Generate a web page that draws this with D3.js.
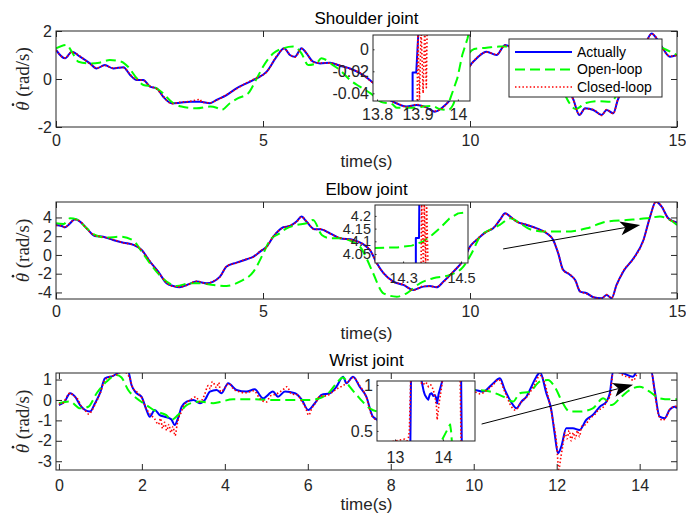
<!DOCTYPE html>
<html>
<head>
<meta charset="utf-8">
<script src="https://cdn.jsdelivr.net/npm/d3@7"></script>
<style>
body { margin: 0; background: #fff; }
</style>
</head>
<body>
<div id="chart"></div>
<script>
// ---- data: [time (s), joint velocity (rad/s)] ----
var shoulderActual = [[0,1.21],[0.22,0.86],[0.38,1.14],[0.58,0.93],[0.82,0.65],[0.98,0.44],[1.18,0.58],[1.38,0.44],[1.63,0.49],[1.79,0.17],[1.95,-0.04],[2.11,-0.04],[2.27,-0.32],[2.43,-0.39],[2.59,-0.74],[2.79,-1.01],[2.99,-0.99],[3.24,-0.95],[3.48,-0.95],[3.72,-1.01],[3.88,-0.87],[4.12,-0.67],[4.36,-0.39],[4.6,-0.18],[4.85,0.03],[5.09,0.31],[5.33,0.93],[5.51,1.28],[5.65,1.0],[5.77,0.93],[5.93,1.28],[6.05,1.07],[6.21,0.72],[6.38,0.65],[6.62,0.68],[6.86,0.55],[7.1,0.44],[7.34,0.24],[7.58,-0.04],[7.8,-0.4],[8.05,-0.85],[8.31,-1.08],[8.47,-1.15],[8.71,-1.08],[8.91,-1.15],[9.15,-1.36],[9.36,-1.15],[9.52,-0.87],[9.68,-0.46],[9.85,0.1],[10.04,0.65],[10.16,0.86],[10.4,1.14],[10.64,1.0],[10.85,1.42],[11.1,1.2],[11.4,1.0],[11.8,0.6],[12.2,0.0],[12.4,-0.5],[12.5,-0.87],[12.64,-1.5],[12.78,-1.22],[12.98,-1.29],[13.18,-1.5],[13.3,-1.29],[13.46,-1.43],[13.57,-0.87],[13.8,-0.1],[14.0,0.6],[14.2,1.3],[14.39,1.9],[14.5,1.7],[14.63,1.35],[14.83,0.93],[15,1.0]];
var shoulderOpen = [[0,1.28],[0.26,1.42],[0.38,1.14],[0.54,0.72],[0.82,0.65],[1.05,0.68],[1.3,0.79],[1.58,0.72],[1.74,0.51],[1.95,0.03],[2.11,-0.25],[2.35,-0.32],[2.59,-0.6],[2.79,-0.95],[3.03,-1.15],[3.39,-1.22],[3.72,-1.15],[3.88,-1.2],[4.0,-1.29],[4.2,-1.01],[4.4,-0.8],[4.64,-0.6],[4.85,0.03],[5.0,0.51],[5.25,1.07],[5.49,1.28],[5.73,1.35],[5.93,1.07],[6.09,0.58],[6.29,0.65],[6.41,0.86],[6.53,0.79],[6.69,0.58],[6.86,0.37],[7.1,-0.04],[7.34,-0.32],[7.6,-0.6],[7.85,-0.95],[8.12,-1.05],[8.24,-1.2],[8.6,-1.2],[9.08,-1.12],[9.27,-1.25],[9.47,-1.29],[9.59,-1.08],[9.69,-0.53],[9.81,0.46],[9.95,1.0],[10.1,1.25],[10.4,1.3],[10.7,1.35],[10.9,1.35],[11.3,1.2],[11.8,0.7],[12.2,-0.3],[12.4,-1.0],[12.55,-1.25],[12.8,-1.0],[13.1,-0.92],[13.4,-0.95],[13.6,-0.5],[13.9,0.4],[14.2,1.1],[14.5,1.4],[14.7,1.25],[15,1.0]];
var shoulderClosed = [[0,1.2],[0.22,0.88],[0.38,1.12],[0.58,0.95],[0.82,0.63],[0.98,0.46],[1.18,0.56],[1.38,0.46],[1.63,0.47],[1.74,0.3],[1.79,0.19],[1.95,-0.02],[2.11,-0.06],[2.27,-0.3],[2.43,-0.41],[2.59,-0.72],[2.79,-1.03],[2.99,-0.97],[3.24,-0.93],[3.48,-0.85],[3.52,-0.97],[3.72,-0.99],[3.88,-0.89],[4.12,-0.65],[4.36,-0.41],[4.6,-0.16],[4.85,0.05],[5.09,0.29],[5.33,0.95],[5.51,1.26],[5.65,1.02],[5.77,0.91],[5.93,1.26],[6.05,1.09],[6.21,0.7],[6.38,0.67],[6.62,0.66],[6.86,0.57],[7.1,0.42],[7.34,0.26],[7.58,-0.06],[7.8,-0.38],[8.05,-0.87],[8.31,-1.06],[8.47,-1.17],[8.71,-1.06],[8.91,-1.17],[9.15,-1.34],[9.36,-1.17],[9.52,-0.85],[9.68,-0.48],[9.85,0.12],[10.04,0.63],[10.16,0.88],[10.4,1.12],[10.64,1.02],[10.85,1.4],[11.1,1.22],[11.4,0.98],[11.8,0.62],[12.2,-0.02],[12.4,-0.48],[12.5,-0.89],[12.64,-1.48],[12.78,-1.24],[12.98,-1.27],[13.18,-1.52],[13.3,-1.27],[13.46,-1.45],[13.57,-0.85],[13.8,-0.12],[14.0,0.62],[14.2,1.28],[14.39,1.88],[14.5,1.72],[14.63,1.33],[14.83,0.95],[15,0.98]];

var elbowActual = [[0,3.2],[0.14,3.09],[0.22,2.95],[0.3,3.2],[0.46,3.8],[0.58,3.56],[0.74,2.84],[0.94,2.03],[1.14,1.95],[1.38,1.6],[1.63,1.31],[1.87,1.07],[2.07,0.53],[2.27,-0.71],[2.47,-1.78],[2.67,-3.02],[2.83,-3.31],[2.99,-3.45],[3.16,-3.2],[3.4,-2.84],[3.64,-3.02],[3.8,-2.84],[3.96,-2.31],[4.12,-1.24],[4.36,-0.82],[4.61,-0.46],[4.77,-0.18],[4.93,0.36],[5.09,0.89],[5.25,1.95],[5.49,2.95],[5.65,3.09],[5.81,3.56],[5.93,4.09],[6.05,3.56],[6.25,2.74],[6.38,2.74],[6.62,2.31],[6.86,1.78],[7.18,1.6],[7.58,0.53],[7.75,-0.89],[7.91,-1.95],[8.15,-2.84],[8.39,-3.2],[8.63,-3.73],[8.87,-3.38],[9.03,-3.31],[9.19,-3.45],[9.36,-2.84],[9.6,-1.78],[9.84,-0.53],[10.0,0.89],[10.16,1.6],[10.4,2.49],[10.56,2.84],[10.72,3.73],[10.85,4.45],[10.97,4.09],[11.13,3.56],[11.37,3.2],[11.61,2.84],[11.85,2.31],[12.01,1.6],[12.13,0.18],[12.25,-1.6],[12.42,-2.13],[12.54,-2.67],[12.66,-3.91],[12.82,-4.09],[12.98,-4.52],[13.18,-4.62],[13.3,-4.27],[13.42,-4.62],[13.54,-3.2],[13.7,-1.78],[13.95,-0.36],[14.19,1.6],[14.35,4.09],[14.49,5.69],[14.63,5.15],[14.79,3.91],[15,3.45]];
var elbowOpen = [[0,3.38],[0.18,3.3],[0.34,3.91],[0.5,3.8],[0.74,2.84],[0.94,2.13],[1.22,1.85],[1.55,1.95],[1.87,1.53],[2.07,0.36],[2.27,-0.89],[2.47,-2.0],[2.67,-2.84],[2.91,-3.31],[3.24,-3.02],[3.48,-3.02],[3.8,-3.2],[4.12,-3.31],[4.44,-2.84],[4.77,-1.78],[5.01,0.18],[5.17,1.6],[5.41,2.31],[5.57,2.84],[5.81,3.2],[6.05,3.38],[6.21,3.73],[6.42,2.13],[6.62,1.78],[6.86,1.78],[7.34,0.89],[7.5,-0.36],[7.66,-1.95],[7.91,-4.09],[8.23,-4.45],[8.47,-4.09],[8.79,-3.02],[9.11,-2.49],[9.52,-2.13],[9.84,-1.24],[10.04,0.18],[10.24,1.95],[10.48,2.67],[10.72,3.2],[10.97,3.91],[11.21,3.38],[11.45,2.74],[11.85,2.49],[12.33,2.49],[12.82,2.84],[13.3,3.56],[13.78,3.73],[14.27,3.91],[14.59,4.09],[14.83,3.73],[15,3.2]];
var elbowClosed = [[0,3.15],[0.14,3.12],[0.22,2.92],[0.3,3.25],[0.46,3.76],[0.58,3.6],[0.74,2.8],[0.94,2.07],[1.14,1.92],[1.38,1.64],[1.63,1.28],[1.87,1.1],[2.07,0.5],[2.27,-0.67],[2.47,-1.82],[2.67,-2.98],[2.83,-3.35],[2.99,-3.41],[3.16,-3.24],[3.4,-2.8],[3.64,-3.06],[3.8,-2.8],[3.96,-2.35],[4.12,-1.2],[4.36,-0.86],[4.61,-0.42],[4.77,-0.22],[4.93,0.4],[5.09,0.85],[5.25,1.99],[5.49,2.91],[5.65,3.13],[5.81,3.52],[5.93,4.05],[6.05,3.6],[6.25,2.7],[6.38,2.78],[6.62,2.27],[6.86,1.82],[7.18,1.56],[7.58,0.57],[7.75,-0.93],[7.91,-1.91],[8.15,-2.88],[8.39,-3.16],[8.63,-3.77],[8.87,-3.34],[9.03,-3.35],[9.19,-3.41],[9.36,-2.88],[9.6,-1.74],[9.84,-0.57],[10.0,0.85],[10.16,1.64],[10.4,2.45],[10.56,2.88],[10.72,3.69],[10.85,4.41],[10.97,4.13],[11.13,3.52],[11.37,3.24],[11.61,2.8],[11.85,2.35],[12.01,1.56],[12.13,0.22],[12.25,-1.64],[12.42,-2.09],[12.54,-2.71],[12.66,-3.87],[12.82,-4.13],[12.98,-4.48],[13.18,-4.66],[13.3,-4.23],[13.42,-4.58],[13.54,-3.24],[13.7,-1.74],[13.95,-0.4],[14.19,1.56],[14.35,4.05],[14.49,5.65],[14.63,5.19],[14.79,3.87],[15,3.49]];

var wristActual = [[0,-0.25],[0.14,-0.08],[0.27,0.33],[0.39,0.16],[0.51,-0.25],[0.63,-0.49],[0.75,-0.57],[0.87,-0.16],[0.99,0.33],[1.11,1.06],[1.31,1.18],[1.51,1.4],[1.67,1.4],[1.75,0.73],[1.87,0.33],[1.99,0.16],[2.11,-0.49],[2.19,-0.82],[2.31,-0.49],[2.43,-0.74],[2.55,-0.82],[2.71,-0.95],[2.79,-1.23],[2.87,-0.9],[2.96,-0.33],[3.08,-0.08],[3.24,0],[3.4,-0.16],[3.52,0],[3.64,0.41],[3.8,0.49],[3.92,0.33],[4.08,0.82],[4.28,0.49],[4.52,0.41],[4.72,0.52],[4.92,0.08],[5.16,0.41],[5.28,0.16],[5.45,0.41],[5.69,0.33],[5.85,0.03],[6.01,-0.49],[6.17,-0.16],[6.33,0.25],[6.53,0.33],[6.69,0.65],[6.85,1.14],[6.93,0.82],[7.09,1.14],[7.25,0.65],[7.41,0.16],[7.57,-0.82],[7.75,-1.0],[8.0,-0.4],[8.4,0.2],[8.9,0.5],[9.4,0.3],[9.8,0.5],[10.02,0.49],[10.22,0.41],[10.47,0.82],[10.63,1.06],[10.75,0.49],[10.95,-0.25],[11.03,-0.41],[11.15,-0.08],[11.27,0.16],[11.39,0.65],[11.51,1.14],[11.6,1.35],[11.75,0.33],[11.87,-0.49],[11.95,-1.63],[12.03,-2.61],[12.11,-2.29],[12.23,-1.39],[12.39,-1.39],[12.55,-1.47],[12.71,-0.98],[12.87,-0.74],[13.04,-0.33],[13.2,-0.08],[13.28,0.33],[13.36,1.4],[13.6,1.31],[13.84,1.14],[13.94,1.4],[14.28,1.4],[14.36,0.49],[14.48,-0.82],[14.6,-0.9],[14.72,-0.49],[14.84,-0.33],[14.9,-0.4]];
var wristOpen = [[0,-0.16],[0.27,-0.08],[0.51,-0.41],[0.71,-0.33],[0.91,0.33],[1.15,0.9],[1.39,1.22],[1.51,1.1],[1.67,0.49],[1.87,0.08],[2.11,-0.25],[2.35,-0.57],[2.59,-0.74],[2.71,-0.98],[2.87,-0.74],[3.08,-0.25],[3.4,-0.08],[3.72,-0.16],[3.88,-0.1],[4.2,0.03],[4.68,0.03],[5.16,0],[5.64,0],[6.04,0],[6.28,0.08],[6.53,0.41],[6.69,0.82],[6.85,1.1],[7.01,0.65],[7.25,0.08],[7.49,-0.41],[7.8,-0.6],[8.3,-0.1],[8.8,0.4],[9.3,0.6],[9.7,0.55],[10.06,0.49],[10.39,0.41],[10.71,0.16],[10.95,-0.08],[11.11,0.33],[11.35,0.41],[11.59,0.9],[11.79,0.98],[11.95,0.65],[12.15,-0.16],[12.31,-0.57],[12.55,-0.57],[12.87,-0.41],[13.12,0.08],[13.32,-0.25],[13.56,0.16],[13.76,0.49],[14.0,0.65],[14.24,0.41],[14.48,0.08],[14.72,0.03],[14.9,0.03]];
var wristClosed = [[0,-0.2],[0.1,-0.15],[0.2,0.2],[0.27,0.35],[0.35,0.2],[0.45,0.05],[0.55,-0.35],[0.65,-0.55],[0.72,-0.7],[0.8,-0.5],[0.9,-0.1],[1.0,0.35],[1.1,0.95],[1.25,1.15],[1.4,1.25],[1.55,1.4],[1.7,1.1],[1.78,0.6],[1.9,0.35],[2.0,0.1],[2.1,-0.4],[2.2,-0.7],[2.3,-0.9],[2.4,-1.2],[2.45,-0.9],[2.5,-1.4],[2.55,-1.1],[2.6,-1.5],[2.65,-1.2],[2.7,-1.6],[2.75,-1.3],[2.8,-1.75],[2.85,-1.2],[2.9,-0.8],[2.95,-0.6],[3.0,-0.3],[3.1,-0.1],[3.2,0.05],[3.3,0.15],[3.4,-0.1],[3.5,0.2],[3.6,0.7],[3.65,0.55],[3.7,0.9],[3.8,0.6],[3.85,0.85],[3.9,0.4],[4.0,0.6],[4.1,0.8],[4.2,0.55],[4.35,0.4],[4.5,0.35],[4.7,0.45],[4.85,0.05],[5.0,-0.1],[5.1,0.2],[5.25,0.3],[5.4,0.5],[5.5,0.65],[5.6,0.3],[5.75,0.25],[5.85,-0.05],[5.95,-0.4],[6.02,-0.75],[6.1,-0.4],[6.2,-0.1],[6.3,0.2],[6.45,0.2],[6.6,0.4],[6.75,0.6],[6.85,0.7],[7.0,0.95],[7.1,1.1],[7.25,0.7],[7.4,0.2],[7.55,-0.8],[7.75,-1.05],[8.0,-0.35],[8.4,0.25],[8.9,0.45],[9.4,0.35],[9.8,0.45],[10.02,0.4],[10.15,0.3],[10.3,0.45],[10.45,0.7],[10.6,1.0],[10.75,0.4],[10.9,-0.3],[11.0,-0.5],[11.15,-0.1],[11.3,0.2],[11.45,0.7],[11.6,1.2],[11.7,0.9],[11.8,0.1],[11.9,-0.9],[12.0,-2.2],[12.05,-3.4],[12.1,-2.8],[12.15,-2.2],[12.2,-1.6],[12.25,-1.9],[12.3,-1.5],[12.35,-2.0],[12.4,-1.6],[12.45,-1.9],[12.5,-1.5],[12.55,-1.8],[12.6,-1.3],[12.7,-1.2],[12.8,-0.9],[12.9,-0.75],[13.0,-0.5],[13.1,-0.4],[13.2,-0.1],[13.3,0.3],[13.36,1.4],[13.5,1.35],[13.6,1.2],[13.75,1.1],[13.85,0.95],[13.92,1.2],[14.0,1.4],[14.28,1.4],[14.36,0.4],[14.45,-0.7],[14.55,-1.0],[14.65,-0.8],[14.75,-0.4],[14.9,-0.3]];

// zoomed insets
var shoulderInsetActual = [[13.888,-0.06],[13.888,-0.0212],[13.897,-0.0212],[13.903,0.02]];
var shoulderInsetOpen = [[13.975,-0.06],[13.98,-0.046],[13.999,-0.026],[14.011,-0.005],[14.024,0.01],[14.03,0.02]];
var shoulderInsetClosed = [[13.899,-0.06],[13.901,0.02],[13.905,-0.046],[13.909,0.02],[13.914,-0.04],[13.918,0.02],[13.922,-0.035],[13.924,0.02]];
var elbowInsetActual = [[14.344,4.0],[14.344,4.113],[14.355,4.113],[14.356,4.26]];
var elbowInsetOpen = [[14.2,4.074],[14.28,4.076],[14.33,4.083],[14.37,4.1],[14.4,4.125],[14.43,4.155],[14.46,4.19],[14.49,4.21],[14.53,4.215]];
var elbowInsetClosed = [[14.362,4.0],[14.364,4.26],[14.37,4.0],[14.373,4.26],[14.378,4.0],[14.381,4.26],[14.386,4.0]];
var wristInsetActual = [[12.6,0.2],[13.0,0.25],[13.32,0.3],[13.335,1.1],[13.54,1.1],[13.556,1.04],[13.6,0.93],[13.625,0.89],[13.66,0.86],[13.694,0.84],[13.73,0.9],[13.765,0.91],[13.8,0.88],[13.833,0.89],[13.86,0.86],[13.88,0.8],[13.91,0.9],[13.938,0.95],[13.99,1.05],[14.0,1.1],[14.38,1.1],[14.395,0.3],[14.7,0.2]];
var wristInsetOpen = [[13.9,0.25],[13.97,0.39],[14.05,0.47],[14.15,0.57],[14.17,0.5],[14.2,0.3]];
var wristInsetClosed = [[12.6,0.3],[12.9,0.38],[13.1,0.4],[13.2,0.41],[13.25,0.39],[13.28,0.42],[13.3,0.5],[13.31,0.7],[13.32,0.9],[13.33,1.1],[13.5,1.1],[13.55,1.02],[13.58,1.03],[13.62,1.0],[13.66,1.02],[13.7,0.98],[13.75,1.0],[13.8,0.95],[13.84,0.85],[13.87,0.75],[13.88,0.62],[13.9,0.7],[13.92,0.8],[13.95,0.9],[13.98,1.0],[14.0,1.1],[14.36,1.1],[14.37,0.7],[14.38,0.3]];

// arrows (start, tip) in data units of their panel
var elbowArrow = [[10.8,0.64],[14.11,3.2]];
var wristArrow = [[10.19,-1.18],[13.84,0.74]];

// ticks and labels
var titles = ["Shoulder joint", "Elbow joint", "Wrist joint"];
var legendLabels = ["Actually", "Open-loop", "Closed-loop"];
var xTicks15 = [0, 5, 10, 15];
var wristXTicks = [0, 2, 4, 6, 8, 10, 12, 14];
var shoulderYTicks = [-2, 0, 2];
var elbowYTicks = [-4, -2, 0, 2, 4];
var wristYTicks = [-3, -2, -1, 0, 1];
var shoulderInsetXTicks = [13.8, 13.9, 14];
var shoulderInsetYTicks = [-0.04, -0.02, 0];
var elbowInsetXTicks = [14.3, 14.5];
var elbowInsetYTicks = [4.05, 4.1, 4.15, 4.2];
var wristInsetXTicks = [13, 14];
var wristInsetYTicks = [0.5, 1];

// line styles: Actually, Open-loop, Closed-loop
var lineStyles = [
    {color: "#0000ff", width: 2, dash: null},
    {color: "#00ff00", width: 2, dash: "10,5"},
    {color: "#ff0000", width: 1.6, dash: "1.5,2.2"}
];

var axisColor = "#262626";
var sansFont = "'Liberation Sans', Arial, Helvetica, sans-serif";
var clipCount = 0;

var svg = d3.select("#chart")
    .append("svg")
    .attr("width", 686)
    .attr("height", 518);

svg.append("rect")
    .attr("width", 686)
    .attr("height", 518)
    .attr("fill", "#fff");

function drawAxes(p) {
    var x = d3.scaleLinear().domain(p.xDomain).range([p.left, p.left + p.width]);
    var y = d3.scaleLinear().domain(p.yDomain).range([p.top + p.height, p.top]);
    var g = svg.append("g");
    var bottom = p.top + p.height;
    var fmt = function(d) { return String(d); };

    g.append("rect")
        .attr("x", p.left).attr("y", p.top)
        .attr("width", p.width).attr("height", p.height)
        .attr("fill", "#fff");

    var clipId = "clip" + (clipCount++);
    svg.append("clipPath").attr("id", clipId)
        .append("rect")
        .attr("x", p.left).attr("y", p.top)
        .attr("width", p.width).attr("height", p.height);

    var plot = g.append("g").attr("clip-path", "url(#" + clipId + ")");
    var line = d3.line()
        .curve(p.smooth ? d3.curveMonotoneX : d3.curveLinear)
        .x(function(d) { return x(d[0]); })
        .y(function(d) { return y(d[1]); });

    p.series.forEach(function(s, i) {
        plot.append("path")
            .datum(s)
            .attr("d", line)
            .attr("fill", "none")
            .attr("stroke", lineStyles[i].color)
            .attr("stroke-width", lineStyles[i].width)
            .attr("stroke-dasharray", lineStyles[i].dash)
            .attr("stroke-linejoin", "round");
    });

    var tl = p.tickLen;
    var axes = [
        {gen: d3.axisBottom(x).tickValues(p.xTicks).tickFormat(fmt).tickPadding(p.xPad), at: [0, bottom], labels: true},
        {gen: d3.axisTop(x).tickValues(p.xTicks).tickFormat(""), at: [0, p.top], labels: false},
        {gen: d3.axisLeft(y).tickValues(p.yTicks).tickFormat(fmt).tickPadding(4), at: [p.left, 0], labels: true},
        {gen: d3.axisRight(y).tickValues(p.yTicks).tickFormat(""), at: [p.left + p.width, 0], labels: false}
    ];
    axes.forEach(function(a) {
        if (!p.mirror && !a.labels) return;
        a.gen.tickSizeInner(-tl).tickSizeOuter(0);
        var ag = g.append("g")
            .attr("transform", "translate(" + a.at[0] + "," + a.at[1] + ")")
            .call(a.gen)
            .attr("font-size", null)
            .attr("font-family", null);
        ag.select(".domain").remove();
        ag.selectAll("line").attr("stroke", axisColor).attr("stroke-width", 1);
        ag.selectAll("text")
            .attr("fill", axisColor)
            .style("font-family", sansFont)
            .style("font-size", (p.fontSize || 16) + "px");
    });

    g.append("rect")
        .attr("x", p.left).attr("y", p.top)
        .attr("width", p.width).attr("height", p.height)
        .attr("fill", "none")
        .attr("stroke", axisColor)
        .attr("stroke-width", 1);

    return {x: x, y: y, g: g};
}

function drawPanel(p) {
    var ax = drawAxes(p);
    var cx = p.left + p.width / 2;
    var bottom = p.top + p.height;

    ax.g.append("text")
        .attr("x", cx).attr("y", p.top - 7)
        .attr("text-anchor", "middle")
        .style("font-family", sansFont)
        .style("font-size", "17px")
        .attr("fill", "#000")
        .text(p.title);

    ax.g.append("text")
        .attr("x", cx).attr("y", bottom + 40)
        .attr("text-anchor", "middle")
        .style("font-family", sansFont)
        .style("font-size", "17px")
        .attr("fill", axisColor)
        .text("time(s)");

    // y label: theta with a dot above, then (rad/s)
    var lg = ax.g.append("g")
        .attr("transform", "translate(29," + (p.top + p.height / 2) + ") rotate(-90)");
    var yl = lg.append("text")
        .attr("text-anchor", "middle")
        .style("font-family", "'Liberation Serif', 'Times New Roman', serif")
        .style("font-size", "19px")
        .attr("fill", axisColor);
    yl.append("tspan").style("font-style", "italic").text("\u03B8");
    yl.append("tspan").text(" (rad/s)");
    var ext = yl.node().getExtentOfChar(0);
    lg.append("circle")
        .attr("cx", ext.x + ext.width / 2 + 1.5)
        .attr("cy", -16)
        .attr("r", 1.3)
        .attr("fill", axisColor);

    return ax;
}

function drawArrow(ax, pts) {
    var p0 = [ax.x(pts[0][0]), ax.y(pts[0][1])];
    var p1 = [ax.x(pts[1][0]), ax.y(pts[1][1])];
    var dx = p1[0] - p0[0], dy = p1[1] - p0[1];
    var len = Math.sqrt(dx * dx + dy * dy);
    var ux = dx / len, uy = dy / len;
    var nx = -uy, ny = ux;
    var L = 20, w = 7, notch = 5;
    var back = [p1[0] - L * ux, p1[1] - L * uy];
    var inner = [p1[0] - (L - notch) * ux, p1[1] - (L - notch) * uy];

    ax.g.append("line")
        .attr("x1", p0[0]).attr("y1", p0[1])
        .attr("x2", inner[0]).attr("y2", inner[1])
        .attr("stroke", "#000").attr("stroke-width", 1);

    ax.g.append("path")
        .attr("d", "M" + p1 + "L" + [back[0] + w * nx, back[1] + w * ny] +
            "L" + inner + "L" + [back[0] - w * nx, back[1] - w * ny] + "Z")
        .attr("fill", "#000");
}

// ---- main panels ----
var shoulder = drawPanel({
    title: titles[0], left: 56, top: 31, width: 621, height: 96,
    xDomain: [0, 15], yDomain: [-2, 2], xTicks: xTicks15, yTicks: shoulderYTicks,
    xPad: 7.6, tickLen: 6, mirror: true, smooth: true,
    series: [shoulderActual, shoulderOpen, shoulderClosed]
});

var elbow = drawPanel({
    title: titles[1], left: 56, top: 202, width: 621, height: 97,
    xDomain: [0, 15], yDomain: [-4.7, 5.65], xTicks: xTicks15, yTicks: elbowYTicks,
    xPad: 6.8, tickLen: 6, mirror: true, smooth: true,
    series: [elbowActual, elbowOpen, elbowClosed]
});
drawArrow(elbow, elbowArrow);

var wrist = drawPanel({
    title: titles[2], left: 56, top: 373, width: 621, height: 97,
    xDomain: [-0.07, 14.9], yDomain: [-3.43, 1.32], xTicks: wristXTicks, yTicks: wristYTicks,
    xPad: 9.6, tickLen: 6, mirror: true, smooth: true,
    series: [wristActual, wristOpen, wristClosed]
});
drawArrow(wrist, wristArrow);

// ---- insets ----
drawAxes({
    left: 373, top: 35, width: 97, height: 66,
    xDomain: [13.79, 14.03], yDomain: [-0.047, 0.013],
    xTicks: shoulderInsetXTicks, yTicks: shoulderInsetYTicks,
    xPad: 7.6, tickLen: 1.5, mirror: false,
    series: [shoulderInsetActual, shoulderInsetOpen, shoulderInsetClosed]
});

drawAxes({
    left: 375, top: 205, width: 93, height: 58,
    xDomain: [14.203, 14.524], yDomain: [4.0146, 4.243],
    xTicks: elbowInsetXTicks, yTicks: elbowInsetYTicks,
    xPad: 10, tickLen: 1.5, mirror: false, fontSize: 14.5,
    series: [elbowInsetActual, elbowInsetOpen, elbowInsetClosed]
});

drawAxes({
    left: 377, top: 381, width: 98, height: 60,
    xDomain: [12.625, 14.67], yDomain: [0.39, 1.043],
    xTicks: wristInsetXTicks, yTicks: wristInsetYTicks,
    xPad: 10.6, tickLen: 1.5, mirror: false,
    series: [wristInsetActual, wristInsetOpen, wristInsetClosed]
});

// ---- legend ----
var legend = svg.append("g");
legend.append("rect")
    .attr("x", 509).attr("y", 39)
    .attr("width", 153).attr("height", 58)
    .attr("fill", "#fff")
    .attr("stroke", axisColor)
    .attr("stroke-width", 1);

legendLabels.forEach(function(label, i) {
    var ly = 52 + i * 17.5;
    legend.append("line")
        .attr("x1", 515).attr("x2", 572)
        .attr("y1", ly).attr("y2", ly)
        .attr("stroke", lineStyles[i].color)
        .attr("stroke-width", lineStyles[i].width)
        .attr("stroke-dasharray", lineStyles[i].dash);
    legend.append("text")
        .attr("x", 577).attr("y", ly)
        .attr("dy", "0.35em")
        .style("font-family", sansFont)
        .style("font-size", "14px")
        .attr("fill", "#000")
        .text(label);
});
</script>
</body>
</html>
